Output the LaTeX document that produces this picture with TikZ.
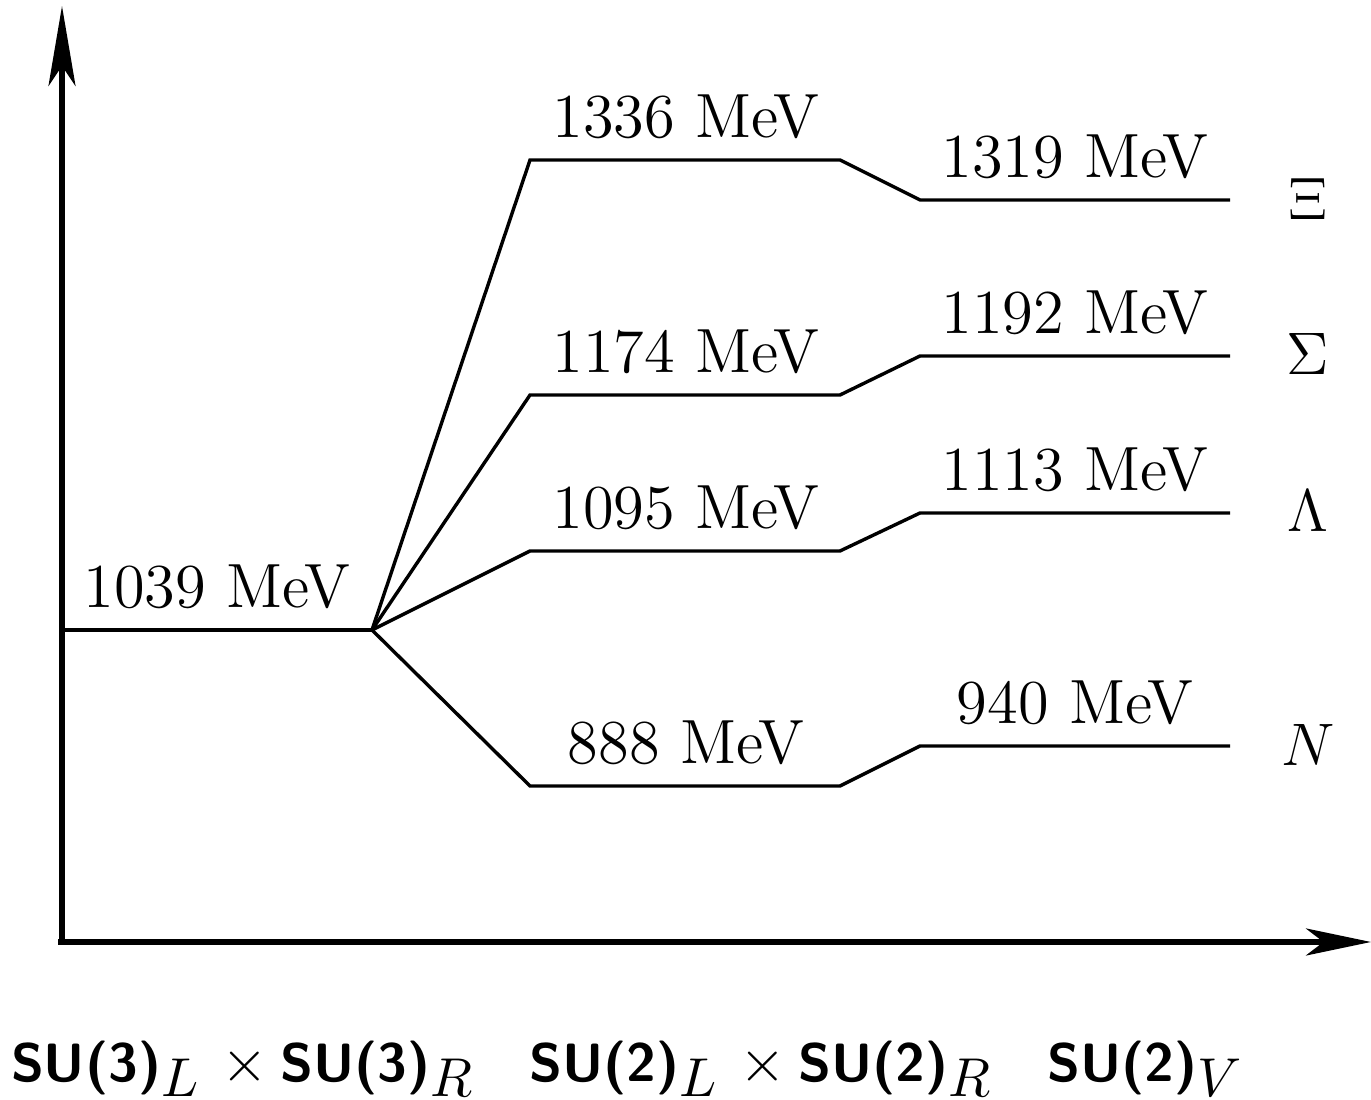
\documentclass[tikz,border=0pt]{standalone}
\usetikzlibrary{arrows.meta}
\newcommand{\grp}[1]{{\fontsize{10.8}{12}\selectfont\sffamily\bfseries #1}}
\newcommand{\sbs}[1]{\raisebox{-2.9pt}{\fontsize{11}{13}\selectfont$#1$}}
\newcommand{\tms}{\hspace{4.6pt}{\fontsize{12}{14}\selectfont$\times$}\hspace{2.4pt}}
\begin{document}
\begin{tikzpicture}[x=0.2pt,y=-0.2pt,
  axis/.style={line width=1.15pt,line cap=butt},
  level/.style={line width=0.68pt,line join=miter},
  mev/.style={anchor=base,inner sep=0pt,font=\fontsize{12.5}{14}\selectfont},
  particle/.style={anchor=base,inner sep=0pt,font=\fontsize{12.5}{14}\selectfont},
  group/.style={anchor=base west,inner sep=0pt}]
\useasboundingbox (0,0) rectangle (1371,1100);
% axes
\coordinate (ytop) at (62,6);
\coordinate (xend) at (1371,942);
\coordinate (xstart) at (58,942);
\coordinate (ystart) at (62,945);
\draw[axis,-{Stealth[length=16pt,width=5.4pt,inset=4pt]}] (ystart) -- (ytop);
\draw[axis,-{Stealth[length=13pt,width=5.4pt,inset=3.5pt]}] (xstart) -- (xend);
% levels
\coordinate (a0) at (62,630);
\coordinate (a1) at (372,630);
\coordinate (xi1) at (530,160);  \coordinate (xi2) at (840,160);
\coordinate (xi3) at (920,200);  \coordinate (xi4) at (1230,200);
\coordinate (si1) at (530,395);  \coordinate (si2) at (840,395);
\coordinate (si3) at (920,356);  \coordinate (si4) at (1230,356);
\coordinate (la1) at (530,551);  \coordinate (la2) at (840,551);
\coordinate (la3) at (920,513);  \coordinate (la4) at (1230,513);
\coordinate (n1) at (530,786);   \coordinate (n2) at (840,786);
\coordinate (n3) at (920,746);   \coordinate (n4) at (1230,746);
\draw[level] (a0) -- (a1);
\draw[level] (a1) -- (xi1) -- (xi2) -- (xi3) -- (xi4);
\draw[level] (a1) -- (si1) -- (si2) -- (si3) -- (si4);
\draw[level] (a1) -- (la1) -- (la2) -- (la3) -- (la4);
\draw[level] (a1) -- (n1) -- (n2) -- (n3) -- (n4);
% mass labels
\node[mev] (m1039) at (217,608) {1039 MeV};
\node[mev] (m1336) at (686,138) {1336 MeV};
\node[mev] (m1174) at (686,373) {1174 MeV};
\node[mev] (m1095) at (686,529) {1095 MeV};
\node[mev] (m888)  at (686,764) {888 MeV};
\node[mev] (m1319) at (1075,178) {1319 MeV};
\node[mev] (m1192) at (1075,334) {1192 MeV};
\node[mev] (m1113) at (1075,491) {1113 MeV};
\node[mev] (m940)  at (1075,724) {940 MeV};
% particle labels
\node[particle] (pXi) at (1308,220) {$\Xi$};
\node[particle] (pSi) at (1308,375) {$\Sigma$};
\node[particle] (pLa) at (1308,532) {$\Lambda$};
\node[particle] (pN)  at (1308,766) {$N$};
% group labels
\node[group] (g1) at (10,1082) {\grp{SU(3)}\sbs{L}\tms\grp{SU(3)}\sbs{R}};
\node[group] (g2) at (528,1082) {\grp{SU(2)}\sbs{L}\tms\grp{SU(2)}\sbs{R}};
\node[group] (g3) at (1046,1082) {\grp{SU(2)}\sbs{V}};
\end{tikzpicture}
\end{document}
